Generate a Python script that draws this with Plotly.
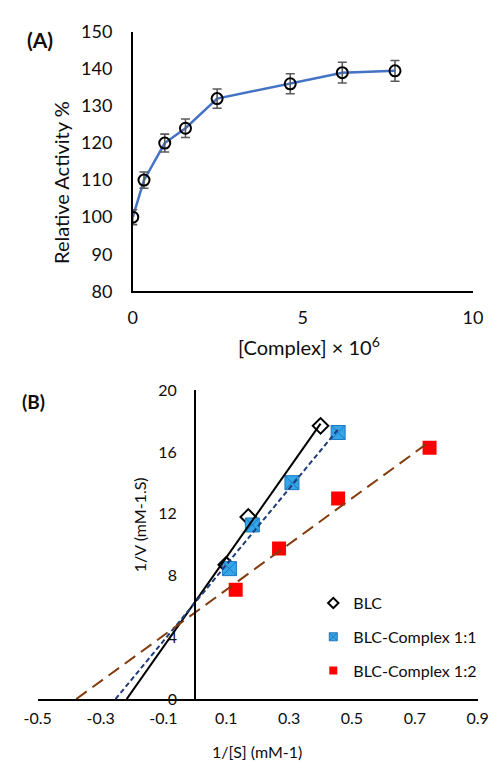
import numpy as np
import plotly.graph_objects as go

# ---------------- Panel A data: relative activity vs complex concentration
complex_conc = [0.0, 0.33, 0.94, 1.55, 2.48, 4.63, 6.16, 7.71]
rel_activity = [100.0, 110.0, 120.0, 124.0, 132.0, 136.0, 139.0, 139.5]
rel_activity_err = [2.0, 2.2, 2.4, 2.5, 2.6, 2.7, 2.8, 2.8]

# ---------------- Panel B data: Lineweaver-Burk plot
blc_inv_s = [0.10, 0.17, 0.40]
blc_inv_v = [8.7, 11.8, 17.7]

c11_inv_s = [0.110, 0.183, 0.309, 0.456]
c11_inv_v = [8.45, 11.28, 14.02, 17.27]

c12_inv_s = [0.130, 0.268, 0.456, 0.747]
c12_inv_v = [7.08, 9.75, 13.00, 16.29]

b_xtick_vals = [-0.5, -0.3, -0.1, 0.1, 0.3, 0.5, 0.7, 0.9]
b_xtick_text = ["-0.5", "-0.3", "-0.1", "0.1", "0.3", "0.5", "0.7", "0.9"]
b_ytick_vals = [0, 4, 8, 12, 16, 20]

W, H = 501, 769
FONT = "Lato"
TXT = "#0d0d0d"


def px(x):
    return x / W


def py(y):
    return 1 - y / H


def trend(xs, ys):
    """Least-squares line, extended back to its x-intercept."""
    m, b = np.polyfit(xs, ys, 1)
    xl = np.array([-b / m, max(xs)])
    return xl, m * xl + b


fig = go.Figure()

# ---- Panel A
fig.add_trace(go.Scatter(
    x=complex_conc, y=rel_activity, mode="lines",
    line=dict(color="#4472C4", width=2.5),
    xaxis="x", yaxis="y", showlegend=False, hoverinfo="skip"))
fig.add_trace(go.Scatter(
    x=complex_conc, y=rel_activity, mode="markers",
    marker=dict(symbol="circle-open", size=11, color="#000000",
                line=dict(width=2, color="#000000")),
    error_y=dict(type="data", array=rel_activity_err, visible=True,
                 color="#5a5a5a", thickness=1.6, width=4.5),
    xaxis="x", yaxis="y", showlegend=False))

# ---- Panel B markers
fig.add_trace(go.Scatter(
    x=blc_inv_s, y=blc_inv_v, mode="markers",
    marker=dict(symbol="diamond-open", size=12, color="#000000",
                line=dict(width=2, color="#000000")),
    xaxis="x2", yaxis="y2", showlegend=False))
fig.add_trace(go.Scatter(
    x=c11_inv_s, y=c11_inv_v, mode="markers",
    marker=dict(symbol="square-x", size=14, color="#35A7E8",
                line=dict(width=1, color="#1F78C1")),
    xaxis="x2", yaxis="y2", showlegend=False))
fig.add_trace(go.Scatter(
    x=c12_inv_s, y=c12_inv_v, mode="markers",
    marker=dict(symbol="square", size=14, color="#FF0000"),
    xaxis="x2", yaxis="y2", showlegend=False))

# ---- Panel B trendlines
for xs, ys, col, dash in [
    (blc_inv_s, blc_inv_v, "#000000", "solid"),
    (c11_inv_s, c11_inv_v, "#1F3B7A", "5px,3px"),
    (c12_inv_s, c12_inv_v, "#843C0C", "13px,7px"),
]:
    tx, ty = trend(xs, ys)
    fig.add_trace(go.Scatter(
        x=tx, y=ty, mode="lines", line=dict(color=col, width=2, dash=dash),
        xaxis="x2", yaxis="y2", showlegend=False, hoverinfo="skip"))

# ---- Legend entries (marker swatches only)
legend_items = [
    ("BLC", dict(symbol="diamond-open", size=8, color="#000000",
                 line=dict(width=2, color="#000000"))),
    ("BLC-Complex 1:1", dict(symbol="square-x", size=8, color="#35A7E8",
                             line=dict(width=1, color="#1F78C1"))),
    ("BLC-Complex 1:2", dict(symbol="square", size=8, color="#FF0000")),
]
for i, (name, mk) in enumerate(legend_items):
    fig.add_trace(go.Scatter(
        x=[None], y=[None], mode="markers", name=name, marker=mk,
        legendgroup=f"g{i}", xaxis="x2", yaxis="y2", showlegend=True))

# ---- Axes
xa_dom = [px(125), px(483)]
ya_dom = [py(287.5), py(20.5)]
xb_dom = [px(25), px(488)]
yb_dom = [py(707.3), py(389.5)]
xb_range = [-0.5, 0.9]
yb_pos = xb_dom[0] + (0 - xb_range[0]) / (xb_range[1] - xb_range[0]) * (xb_dom[1] - xb_dom[0])

axis_common = dict(showgrid=False, zeroline=False, showline=True,
                   linecolor="#000000", linewidth=1.5, ticks="")

fig.update_layout(
    width=W, height=H,
    margin=dict(l=0, r=0, t=0, b=0),
    paper_bgcolor="white", plot_bgcolor="white",
    font=dict(family=FONT, color=TXT),
    xaxis=dict(domain=xa_dom, range=[0, 10], tickvals=[0, 5, 10],
               anchor="y", ticklabelstandoff=9,
               tickfont=dict(family=FONT, color=TXT, size=18), **axis_common),
    yaxis=dict(domain=ya_dom, range=[80, 150], dtick=10,
               anchor="x", ticklabelstandoff=15,
               tickfont=dict(family=FONT, color=TXT, size=18), **axis_common),
    xaxis2=dict(domain=xb_dom, range=xb_range, tickvals=b_xtick_vals,
                ticktext=b_xtick_text, anchor="y2", ticklabelstandoff=4,
                tickfont=dict(family=FONT, color=TXT, size=16), **axis_common),
    yaxis2=dict(domain=yb_dom, range=[0, 20], tickvals=b_ytick_vals,
                anchor="free", position=yb_pos, ticklabelstandoff=14,
                tickfont=dict(family=FONT, color=TXT, size=16), **axis_common),
    legend=dict(x=px(315), y=py(591), xanchor="left", yanchor="top",
                bgcolor="rgba(0,0,0,0)", tracegroupgap=10,
                font=dict(family=FONT, color=TXT, size=16)),
    showlegend=True,
)

annotations = [
    dict(text="<b>(A)</b>", x=px(27), y=py(28), size=21, angle=0),
    dict(text="<b>(B)</b>", x=px(20), y=py(401), size=19, angle=0),
    dict(text="Relative Activity %", x=px(49.5), y=py(176), size=20, angle=-90),
    dict(text="[Complex] × 10<sup>6</sup>", x=px(311), y=py(344), size=20, angle=0),
    dict(text="1/V (mM-1.S)", x=px(133), y=py(528), size=16, angle=-90),
    dict(text="1/[S] (mM-1)", x=px(256), y=py(761), size=16, angle=0),
]
for a in annotations:
    fig.add_annotation(text=a["text"], x=a["x"], y=a["y"], xref="paper", yref="paper",
                       xanchor="center", yanchor="middle", showarrow=False,
                       textangle=a["angle"],
                       font=dict(family=FONT, color=TXT, size=a["size"]))

fig.write_html("out.html")
